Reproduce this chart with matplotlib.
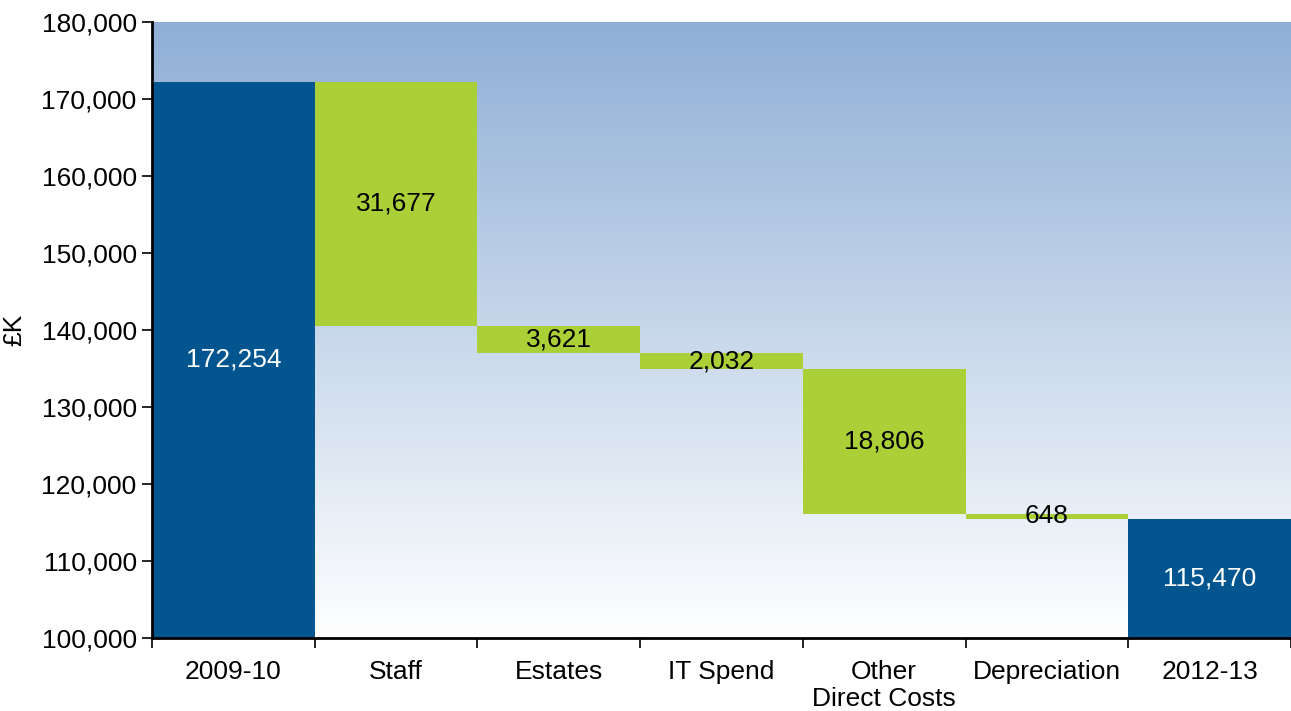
import numpy as np
import matplotlib.pyplot as plt
from matplotlib.colors import LinearSegmentedColormap

plt.rcParams['font.family'] = ['Liberation Sans', 'DejaVu Sans']

categories = ['2009-10', 'Staff', 'Estates', 'IT Spend', 'Other\nDirect Costs', 'Depreciation', '2012-13']
start_total = 172254
savings = [31677, 3621, 2032, 18806, 648]
end_total = 115470

blue = '#02558f'
green = '#aacf37'
fs = 19

fig = plt.figure(figsize=(12.91, 7.11), dpi=100)
ax = fig.add_axes([152 / 1291, 1 - 638 / 711, 1 - 152 / 1291, (638 - 22) / 711])

# gradient background
grad = LinearSegmentedColormap.from_list('bg', ['#ffffff', '#8fafd6'])
ax.imshow(np.linspace(0, 1, 256).reshape(-1, 1), cmap=grad, aspect='auto',
          extent=[0, 1, 0, 1], transform=ax.transAxes, origin='lower', zorder=0)

x = np.arange(len(categories))
ymin = 100000

# totals
ax.bar(x[0], start_total - ymin, bottom=ymin, width=1.0, color=blue, zorder=2)
ax.bar(x[-1], end_total - ymin, bottom=ymin, width=1.0, color=blue, zorder=2)
ax.text(x[0], (start_total + ymin) / 2, f'{start_total:,}', ha='center', va='center',
        color='white', fontsize=fs, zorder=3)
ax.text(x[-1], (end_total + ymin) / 2, f'{end_total:,}', ha='center', va='center',
        color='white', fontsize=fs, zorder=3)

# steps
level = start_total
for i, s in enumerate(savings):
    ax.bar(x[i + 1], s, bottom=level - s, width=1.0, color=green, zorder=2)
    ax.text(x[i + 1], level - s / 2, f'{s:,}', ha='center', va='center',
            color='black', fontsize=fs, zorder=3)
    level -= s

ax.set_xlim(-0.5, len(categories) - 0.5)
ax.set_ylim(100000, 180000)
ax.set_yticks(np.arange(100000, 180001, 10000))
ax.set_yticklabels([f'{v:,}' for v in range(100000, 180001, 10000)])
ax.set_xticks(x)
ax.set_xticklabels(categories, linespacing=1.15)
ax.set_xticks(np.arange(-0.5, len(categories)), minor=True)
ax.tick_params(axis='x', which='major', length=0, labelsize=fs, pad=16)
ax.tick_params(axis='x', which='minor', length=7, width=1.2, direction='out')
ax.tick_params(axis='y', labelsize=fs, length=7, width=1.2, direction='out', pad=4)

ax.spines['top'].set_visible(False)
ax.spines['right'].set_visible(False)
ax.spines['left'].set_linewidth(2)
ax.spines['bottom'].set_linewidth(2)

ax.set_ylabel('£K', fontsize=fs)
ax.yaxis.set_label_coords(-0.11, 0.5)

fig.savefig('out.png', dpi=100)
